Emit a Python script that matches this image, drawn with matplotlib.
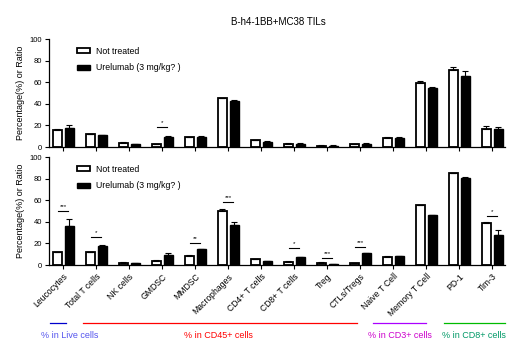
import matplotlib
matplotlib.use("Agg")
import matplotlib.pyplot as plt
import numpy as np

categories = ["Leucocytes", "Total T cells", "NK cells", "GMDSC", "MMDSC", "Macrophages",
              "CD4+ T cells", "CD8+ T cells", "Treg", "CTLs/Tregs", "Naive T Cell",
              "Memory T Cell", "PD-1", "Tim-3"]
series = ["Not treated", "Urelumab (3 mg/kg? )"]

top_not = [15.5, 11.8, 3.7, 2.5, 9.3, 45.0, 6.2, 3.1, 1.2, 2.5, 8.7, 59.0, 71.4, 17.0]
top_not_err = [0.8, 0.6, 0.5, 0.5, 0.4, 0.5, 0.6, 0.4, 0.2, 0.5, 0.6, 2.0, 2.5, 2.8]
top_ure = [18.0, 10.9, 2.5, 9.3, 9.3, 42.5, 4.7, 3.1, 1.2, 3.0, 8.7, 54.3, 65.5, 17.0]
top_ure_err = [2.2, 0.6, 0.3, 0.6, 0.5, 0.6, 0.4, 0.4, 0.2, 0.5, 0.5, 1.6, 5.0, 1.8]

bot_not = [11.8, 11.8, 2.2, 4.0, 8.4, 49.8, 5.3, 3.1, 2.2, 1.5, 7.4, 55.4, 85.0, 39.0]
bot_not_err = [0.5, 0.5, 0.2, 0.3, 0.4, 1.8, 0.3, 0.4, 0.3, 0.2, 0.6, 0.5, 0.6, 0.5]
bot_ure = [36.5, 17.6, 1.5, 9.0, 14.5, 36.8, 3.4, 7.1, 0.6, 10.8, 8.0, 46.0, 80.5, 27.5]
bot_ure_err = [6.0, 0.6, 0.1, 1.8, 0.3, 3.0, 0.2, 0.6, 0.1, 0.4, 0.2, 0.0, 0.6, 5.0]

# significance: (category index, line y, label)
top_sig = [(3, 18.6, "*")]
bot_sig = [(0, 50.0, "***"), (1, 25.7, "*"), (4, 20.0, "**"), (5, 58.0, "***"),
           (7, 15.5, "*"), (8, 6.5, "***"), (9, 16.4, "***"), (13, 45.2, "*")]

yticks = [0, 20, 40, 60, 80, 100]

groups = [("% in Live cells", -0.4, 0.1, "#0000cc", "#5555ee", 0.2),
          ("% in CD45+ cells", 0.6, 8.9, "#ff0000", "#ff0000", 4.7),
          ("% in CD3+ cells", 9.4, 11.0, "#aa00ff", "#cc00cc", 10.2),
          ("% in CD8+ cells", 11.55, 13.4, "#00bb00", "#009966", 12.45)]

W, H = 530, 357
fig = plt.figure(figsize=(W / 100, H / 100), dpi=100)
plt.rcParams['font.family'] = ['Liberation Sans', 'DejaVu Sans']

x = np.arange(len(categories))
bw = 0.26

def panel(rect, nv, ne, uv, ue, sigs, show_xlabels):
    ax = fig.add_axes(rect)
    b1 = ax.bar(x - 0.175, nv, bw, color="white", edgecolor="black", linewidth=1.3,
                yerr=[np.zeros(len(ne)), ne], error_kw=dict(ecolor="black", elinewidth=0.8, capsize=2.2, capthick=0.8))
    b2 = ax.bar(x + 0.19, uv, bw, color="black", edgecolor="black", linewidth=1.0,
                yerr=[np.zeros(len(ue)), ue], error_kw=dict(ecolor="black", elinewidth=0.8, capsize=2.2, capthick=0.8))
    ax.set_xlim(-0.424, 13.39)
    ax.set_ylim(0, 100)
    ax.set_yticks(yticks)
    ax.set_yticklabels([str(v) for v in yticks], fontsize=5.5)
    ax.set_xticks(x)
    ax.tick_params(axis='both', length=3, width=0.8, pad=2)
    for s in ["top", "right"]:
        ax.spines[s].set_visible(False)
    for s in ["left", "bottom"]:
        ax.spines[s].set_linewidth(0.9)
    if show_xlabels:
        ax.set_xticklabels(categories, rotation=45, ha="right", rotation_mode="anchor", fontsize=6.2)
    else:
        ax.set_xticklabels([])
    ax.set_ylabel("Percentage(%) or Ratio", fontsize=6.5, labelpad=3)
    for i, yl, lab in sigs:
        ax.plot([i - 0.15, i + 0.15], [yl, yl], color="black", lw=0.8)
        ax.text(i, yl + 2.0, lab, ha="center", va="bottom", fontsize=4.5)
    ax.legend([b1, b2], series, loc="upper left", bbox_to_anchor=(0.045, 1.0), frameon=False,
              fontsize=6.3, handlelength=1.4, handleheight=0.5, labelspacing=0.85, handletextpad=0.7)
    return ax

top_rect = [49 / W, 1 - 147 / H, 456 / W, 108 / H]
bot_rect = [49 / W, 1 - 265 / H, 456 / W, 108 / H]
panel(top_rect, top_not, top_not_err, top_ure, top_ure_err, top_sig, False)
axb = panel(bot_rect, bot_not, bot_not_err, bot_ure, bot_ure_err, bot_sig, True)

fig.text(278 / W, 1 - 22 / H, "B-h4-1BB+MC38 TILs", ha="center", va="center", fontsize=7)

# group annotations
def xdata_to_fig(v):
    return (49 + (v + 0.424) * 33) / W

for lab, x0, x1, lc, tc, xc in groups:
    fig.add_artist(plt.Line2D([xdata_to_fig(x0), xdata_to_fig(x1)], [1 - 323 / H, 1 - 323 / H],
                              color=lc, lw=0.9))
    fig.text(xdata_to_fig(xc), 1 - 336 / H, lab, ha="center", va="center", fontsize=6.5, color=tc)

fig.savefig("out.png", dpi=100)
